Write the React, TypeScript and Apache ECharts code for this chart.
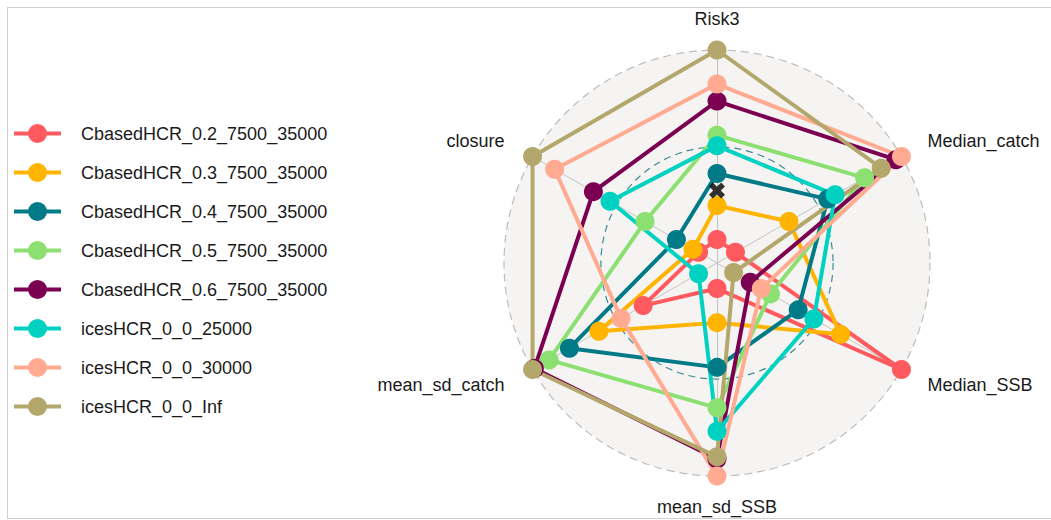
import React, { useEffect, useRef } from "react";
import * as echarts from "echarts";

// Indicators in visual clockwise order starting at the top
const INDICATORS = ["Risk3", "Median_catch", "Median_SSB", "mean_sd_SSB", "mean_sd_catch", "closure"];

const SERIES_NAMES = [
  "CbasedHCR_0.2_7500_35000",
  "CbasedHCR_0.3_7500_35000",
  "CbasedHCR_0.4_7500_35000",
  "CbasedHCR_0.5_7500_35000",
  "CbasedHCR_0.6_7500_35000",
  "icesHCR_0_0_25000",
  "icesHCR_0_0_30000",
  "icesHCR_0_0_Inf",
];

const COLORS = ["#FF5A5F", "#FFB400", "#007A87", "#8CE071", "#7B0051", "#00D1C1", "#FFAA91", "#B4A76C"];

// values per indicator (same order as INDICATORS), scaled 0..1
const V_C02 = [0.11, 0.1, 1.0, 0.12, 0.4, 0.1];
const V_C03 = [0.27, 0.39, 0.67, 0.28, 0.64, 0.13];
const V_C04 = [0.42, 0.6, 0.44, 0.49, 0.8, 0.22];
const V_C05 = [0.6, 0.8, 0.29, 0.68, 0.91, 0.39];
const V_C06 = [0.76, 0.97, 0.18, 0.92, 0.99, 0.67];
const V_I25 = [0.55, 0.64, 0.525, 0.79, 0.1, 0.58];
const V_I30 = [0.84, 1.0, 0.24, 1.0, 0.52, 0.88];
const V_IINF = [1.0, 0.89, 0.09, 0.91, 1.0, 1.0];

const SERIES_VALUES = [V_C02, V_C03, V_C04, V_C05, V_C06, V_I25, V_I30, V_IINF];

const AXIS_MIN = 0;
const AXIS_MAX = 1;
const REF_CIRCLE = 0.545; // dashed reference circle level
const REF_RISK3 = 0.34; // black cross on Risk3 axis

const FONT = "'Liberation Sans', Arial, Helvetica, sans-serif";
const TEXT_COLOR = "#1a1a1a";

// ECharts places indicators counter-clockwise; reorder to get a clockwise layout
const ORDER = [0, 5, 4, 3, 2, 1];

const CENTER = [709, 255];
const RADIUS = 213;

const LEGEND_ICON =
  "path://M0,7.5H47V11.5H0Z M14,9.5A9.5,9.5 0 1 1 33,9.5A9.5,9.5 0 1 1 14,9.5Z";
const CROSS =
  "path://M2.4,0L5,2.6L7.6,0L10,2.4L7.4,5L10,7.6L7.6,10L5,7.4L2.4,10L0,7.6L2.6,5L0,2.4Z";

function nameStyle(name: string): string {
  if (name === "Median_catch") return "ur";
  if (name === "Median_SSB") return "lr";
  if (name === "closure") return "ul";
  if (name === "mean_sd_catch") return "ll";
  return "c";
}

export default function App() {
  const ref = useRef<HTMLDivElement>(null);

  useEffect(() => {
    if (!ref.current) return;
    const chart = echarts.init(ref.current, null, { renderer: "svg" });
    const indicator = ORDER.map((i) => ({ name: INDICATORS[i], min: AXIS_MIN, max: AXIS_MAX }));
    const tok = { fontSize: 18, fontFamily: FONT, color: TEXT_COLOR };

    const option: any = {
      animation: false,
      legend: {
        orient: "vertical",
        left: 6,
        top: 116,
        padding: 0,
        itemWidth: 47,
        itemHeight: 19,
        itemGap: 20,
        selectedMode: false,
        formatter: "{a|{name}}",
        textStyle: {
          fontSize: 18,
          fontFamily: FONT,
          color: TEXT_COLOR,
          rich: { a: { ...tok, padding: [0, 0, 0, 15] } },
        },
        data: SERIES_NAMES.map((n, i) => ({
          name: n,
          icon: LEGEND_ICON,
          itemStyle: { color: COLORS[i], borderWidth: 0 },
        })),
      },
      radar: [
        {
          center: CENTER,
          radius: RADIUS,
          shape: "circle",
          splitNumber: 1,
          indicator,
          axisNameGap: 22,
          axisName: {
            ...tok,
            formatter: (name: string) => `{${nameStyle(name)}|${name}}`,
            rich: {
              c: { ...tok },
              ur: { ...tok, padding: [0, 0, 9, 7] },
              lr: { ...tok, padding: [9, 0, 0, 7] },
              ul: { ...tok, padding: [0, 9, 9, 0] },
              ll: { ...tok, padding: [9, 9, 0, 0] },
            },
          },
          axisLine: { lineStyle: { color: "#c4c4c4", width: 1 } },
          splitLine: { lineStyle: { color: "#bdbdbd", width: 1.2, type: [8, 5] } },
          splitArea: { areaStyle: { color: ["#f5f4f2"] } },
          axisTick: { show: false },
          axisLabel: { show: false },
        },
        {
          center: CENTER,
          radius: RADIUS * REF_CIRCLE,
          shape: "circle",
          splitNumber: 1,
          indicator: ORDER.map(() => ({ name: "", min: AXIS_MIN, max: AXIS_MAX })),
          axisName: { show: false },
          axisLine: { show: false },
          splitLine: { lineStyle: { color: "#3d8a98", width: 1.2, type: [7, 5] } },
          splitArea: { show: false },
          axisTick: { show: false },
          axisLabel: { show: false },
        },
      ],
      polar: { center: CENTER, radius: RADIUS },
      angleAxis: {
        type: "value",
        min: 0,
        max: 360,
        startAngle: 90,
        show: false,
        axisLine: { show: false },
        splitLine: { show: false },
        axisTick: { show: false },
        axisLabel: { show: false },
      },
      radiusAxis: {
        type: "value",
        min: AXIS_MIN,
        max: AXIS_MAX,
        show: false,
        axisLine: { show: false },
        splitLine: { show: false },
        axisTick: { show: false },
        axisLabel: { show: false },
      },
      series: [
        ...SERIES_NAMES.map((n, i) => ({
          type: "radar",
          name: n,
          radarIndex: 0,
          color: COLORS[i],
          symbol: "circle",
          symbolSize: 19,
          lineStyle: { color: COLORS[i], width: 4 },
          itemStyle: { color: COLORS[i], borderWidth: 0 },
          emphasis: { disabled: true },
          data: [{ name: n, value: ORDER.map((k) => SERIES_VALUES[i][k]) }],
        })),
        {
          type: "scatter",
          coordinateSystem: "polar",
          z: 10,
          symbol: CROSS,
          symbolSize: 16,
          itemStyle: { color: "#000" },
          emphasis: { disabled: true },
          data: [[REF_RISK3, 0]],
        },
      ],
    };

    chart.setOption(option);
    return () => chart.dispose();
  }, []);

  return (
    <div
      style={{
        position: "absolute",
        left: 7,
        top: 7,
        width: 1044,
        height: 512,
        boxSizing: "border-box",
        borderTop: "1px solid #d0d0d0",
        borderLeft: "1px solid #d0d0d0",
        borderBottom: "1px solid #d0d0d0",
        background: "#fff",
      }}
    >
      <div ref={ref} style={{ width: "100%", height: "100%" }} />
    </div>
  );
}
